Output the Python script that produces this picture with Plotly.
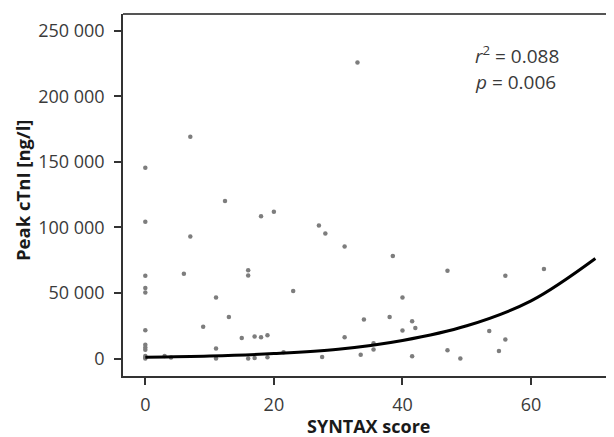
import plotly.graph_objects as go

# Scatter data
syntax_score = [0, 0, 0, 0, 0, 0, 0, 0, 0, 0, 0, 0,
                3, 4, 6, 7, 7, 9, 11, 11, 11, 12.4, 13, 15,
                16, 16, 16, 17, 17, 18, 18, 19, 19, 20, 21.5, 23,
                27, 27.5, 28, 31, 31, 33, 33.5, 34, 35.5, 35.5, 38, 38.5,
                40, 40, 41.5, 41.5, 42, 47, 47, 49, 53.5, 55, 56, 56, 62]
peak_ctni = [145500, 104300, 63100, 53900, 50400, 21600, 10500, 8500, 6800, 2000, 800, 0,
             2000, 800, 64600, 169200, 93100, 24200, 46600, 7600, 0, 120100, 31800, 15700,
             67400, 63400, 0, 16800, 500, 108600, 16300, 17800, 1000, 111900, 4900, 51600,
             101500, 1200, 95400, 85500, 16300, 225700, 3000, 29800, 11600, 6900, 31800, 78300,
             46600, 21500, 28500, 1800, 23400, 66900, 6300, 0, 21100, 5800, 63100, 14500, 68400]

# Fitted curve
curve_x = [0, 10, 20, 30, 40, 50, 60, 70]
curve_y = [1000, 1900, 3800, 7100, 13800, 25000, 44000, 76300]

x_ticks = [0, 20, 40, 60]
y_ticks = [0, 50000, 100000, 150000, 200000, 250000]
y_tick_labels = ["0", "50 000", "100 000", "150 000", "200 000", "250 000"]

x_title = "SYNTAX score"
y_title = "Peak cTnI [ng/l]"
stats_lines = ["<i>r</i><sup>2</sup> = 0.088", "<i>p</i> = 0.006"]

font_family = "Open Sans, Noto Sans, DejaVu Sans, sans-serif"
axis_col = "#333333"
text_col = "#3a3a3a"
title_col = "#1a1a1a"

fig = go.Figure()
fig.add_trace(go.Scatter(
    x=syntax_score, y=peak_ctni, mode="markers",
    marker=dict(size=4.5, color="#7d7d7d", line=dict(width=0)),
    hoverinfo="skip", showlegend=False))
fig.add_trace(go.Scatter(
    x=curve_x, y=curve_y, mode="lines",
    line=dict(color="black", width=3, shape="spline", smoothing=1.0),
    hoverinfo="skip", showlegend=False))

fig.add_annotation(x=51.0, y=231500, text=stats_lines[0], showarrow=False,
                   xanchor="left", yanchor="middle",
                   font=dict(family=font_family, size=19, color=text_col))
fig.add_annotation(x=51.0, y=211200, text=stats_lines[1], showarrow=False,
                   xanchor="left", yanchor="middle",
                   font=dict(family=font_family, size=19, color=text_col))

# axis titles placed as annotations for exact positioning
fig.add_annotation(xref="paper", yref="paper", x=0.5, y=0, yshift=-50,
                   text="<b>" + x_title + "</b>", showarrow=False,
                   xanchor="center", yanchor="middle",
                   font=dict(family=font_family, size=18, color=title_col))
fig.add_annotation(xref="paper", yref="paper", x=0, y=0.5, xshift=-101, yshift=4,
                   text="<b>" + y_title + "</b>", showarrow=False, textangle=-90,
                   xanchor="center", yanchor="middle",
                   font=dict(family=font_family, size=18.5, color=title_col))

# top frame line (left and bottom are axis lines)
fig.add_shape(type="line", xref="paper", yref="paper", x0=0, x1=1, y0=1, y1=1,
              line=dict(color="#555555", width=2))

# The page body has an 8px margin, so the figure is sized to fit the window.
fig.update_layout(
    width=606, height=429,
    margin=dict(l=115, r=0, t=6, b=61),
    paper_bgcolor="white", plot_bgcolor="white",
    font=dict(family=font_family, color=text_col),
    showlegend=False,
)
fig.update_xaxes(
    range=[-3.47, 72.9], tickvals=x_ticks, showgrid=False, zeroline=False,
    showline=True, linecolor=axis_col, linewidth=1.5,
    ticks="outside", ticklen=7, tickwidth=1.5, tickcolor=axis_col,
    ticklabelstandoff=5,
    tickfont=dict(family=font_family, size=18, color=text_col),
)
fig.update_yaxes(
    range=[-13280, 262750], tickvals=y_ticks, ticktext=y_tick_labels,
    showgrid=False, zeroline=False,
    showline=True, linecolor=axis_col, linewidth=1.5,
    ticks="outside", ticklen=7, tickwidth=1.5, tickcolor=axis_col,
    ticklabelstandoff=6,
    tickfont=dict(family=font_family, size=18, color=text_col),
)

fig.write_html("out.html")
